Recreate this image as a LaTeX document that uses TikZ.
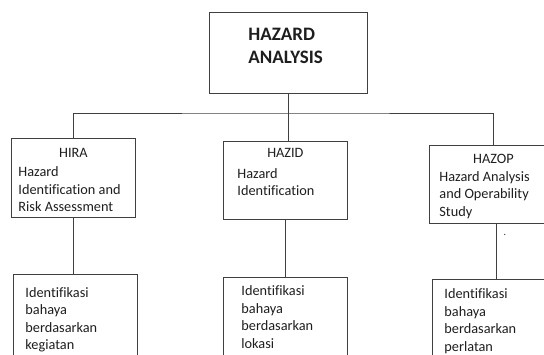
\documentclass[tikz,border=0pt]{standalone}
\usepackage{fontspec}
\setmainfont{Carlito}[Ligatures=NoCommon]
\usetikzlibrary{positioning}
\definecolor{linegray}{HTML}{404040}
\definecolor{textgray}{HTML}{1E1E1E}
% text block of a box: width, height, top gap, lines
\newcommand{\boxtext}[4]{\parbox[c][#2][t]{#1}{\vspace*{#3}\strut#4}}

\begin{document}
\begin{tikzpicture}[
    x=1pt, y=-1pt,
    hazbox/.style={rectangle, draw=linegray, line width=0.8pt, anchor=north west,
        inner ysep=0pt, text=textgray, font=\fontsize{14.3}{17.5}\selectfont},
    titlebox/.style={hazbox, font=\fontsize{19}{23}\selectfont\bfseries},
    link/.style={draw=linegray, line width=0.8pt}
]
    \useasboundingbox (0,0) rectangle (544,354);
    \clip (0,0) rectangle (544,354);

    % Top
    \node[titlebox, inner xsep=39pt] (hazard) at (209,12)
        {\boxtext{80pt}{81pt}{12pt}{HAZARD\\ANALYSIS}};

    % Methods
    \node[hazbox, inner xsep=7pt] (hira) at (11,138)
        {\boxtext{110pt}{79pt}{6.8pt}{\makebox[\linewidth]{HIRA}\\[2pt] Hazard\\ Identification and\\ Risk Assessment}};
    \node[hazbox, inner xsep=14pt] (hazid) at (223,141)
        {\boxtext{96pt}{78pt}{4pt}{\makebox[\linewidth]{HAZID}\\[3pt] Hazard\\ Identification}};
    \node[hazbox, inner xsep=10pt] (hazop) at (429,145)
        {\boxtext{108pt}{78pt}{6pt}{\makebox[\linewidth]{HAZOP}\\ Hazard Analysis\\ and Operability\\ Study}};

    % Bases
    \node[hazbox, inner xsep=12pt] (kegiatan) at (13,274)
        {\boxtext{100pt}{100pt}{10.5pt}{Identifikasi\\ bahaya\\ berdasarkan\\ kegiatan}};
    \node[hazbox, inner xsep=18pt] (lokasi) at (223,277)
        {\boxtext{88pt}{100pt}{6pt}{Identifikasi\\ bahaya\\ berdasarkan\\ lokasi}};
    \node[hazbox, inner xsep=12pt] (perlatan) at (432,279)
        {\boxtext{100pt}{100pt}{7pt}{Identifikasi\\ bahaya\\ berdasarkan\\ perlatan}};
    \node[text=textgray, font=\fontsize{10}{12}\selectfont, anchor=base] (dot) at (505,235) {.};

    % Links
    \coordinate (bus) at (288,113);
    \draw[link] (hazard.south) -- (hazard.south |- hazid.north);
    \draw[link] (hira.north) |- (bus) -| (hazop.north);
    \draw[link] (hira.south) -- (hira.south |- kegiatan.north);
    \draw[link] (hazid.south) -- (hazid.south |- lokasi.north);
    \draw[link] ([xshift=3pt]hazop.south) -- ([xshift=3pt]hazop.south |- perlatan.north);
\end{tikzpicture}
\end{document}
